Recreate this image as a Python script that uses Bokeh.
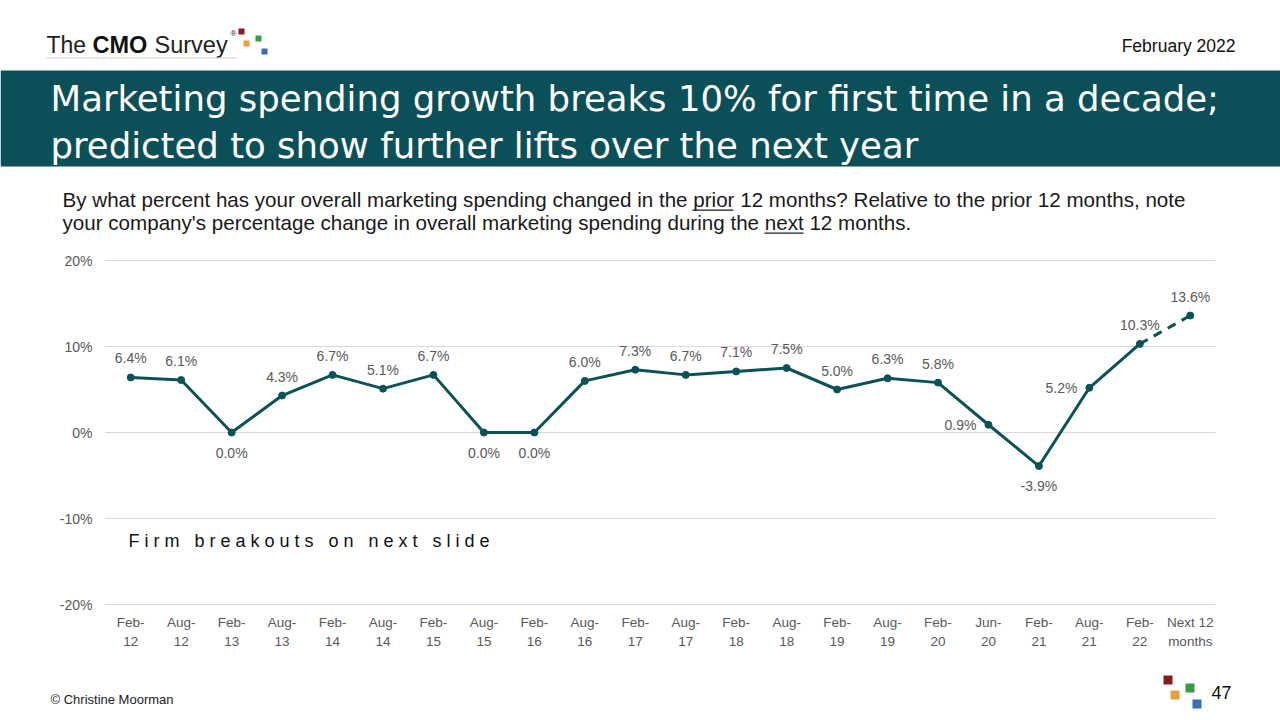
from bokeh.plotting import figure
from bokeh.models import (Range1d, FixedTicker, ColumnDataSource, CustomJSTickFormatter,
                          Label, BoxAnnotation)
from bokeh.core.properties import value
from bokeh.embed import file_html
from bokeh.resources import INLINE

# ---------------- data ----------------
periods = ["Feb-12", "Aug-12", "Feb-13", "Aug-13", "Feb-14", "Aug-14", "Feb-15", "Aug-15",
           "Feb-16", "Aug-16", "Feb-17", "Aug-17", "Feb-18", "Aug-18", "Feb-19", "Aug-19",
           "Feb-20", "Jun-20", "Feb-21", "Aug-21", "Feb-22", "Next 12 months"]
tick_labels = ["Feb-\n12", "Aug-\n12", "Feb-\n13", "Aug-\n13", "Feb-\n14", "Aug-\n14", "Feb-\n15",
               "Aug-\n15", "Feb-\n16", "Aug-\n16", "Feb-\n17", "Aug-\n17", "Feb-\n18", "Aug-\n18",
               "Feb-\n19", "Aug-\n19", "Feb-\n20", "Jun-\n20", "Feb-\n21", "Aug-\n21", "Feb-\n22",
               "Next 12\nmonths"]
spending_change = [6.4, 6.1, 0.0, 4.3, 6.7, 5.1, 6.7, 0.0, 0.0, 6.0, 7.3, 6.7, 7.1, 7.5,
                   5.0, 6.3, 5.8, 0.9, -3.9, 5.2, 10.3, 13.6]
y_ticks = [-20, -10, 0, 10, 20]

title_lines = ["Marketing spending growth breaks 10% for first time in a decade;",
               "predicted to show further lifts over the next year"]
question_lines = ["By what percent has your overall marketing spending changed in the prior 12 months? "
                  "Relative to the prior 12 months, note",
                  "your company's percentage change in overall marketing spending during the next 12 months."]
note_text = "F i r m \u00a0 b r e a k o u t s \u00a0 o n \u00a0 n e x t \u00a0 s l i d e"

# label placement (style): default above the point
below_idx = {2, 7, 8, 18}
left_idx = {17, 19}

TEAL = "#0b5258"
BAND = "#0b4f58"
GRAY = "#595959"
FONT = "Liberation Sans"

W, H = 1280, 720
FL, FR, FT, FB = 105, 1215, 260, 604  # plotting area on the page (px)
YMIN, YMAX = -20, 20

n = len(periods)
x0, x1 = -0.5, n - 0.5
ppx = (FR - FL) / (x1 - x0)
ppy = (FB - FT) / (YMAX - YMIN)

p = figure(width=W, height=H, output_backend="svg", toolbar_location=None,
           x_range=Range1d(x0 - FL / ppx, x1 + (W - FR) / ppx),
           y_range=Range1d(YMIN - (H - FB) / ppy, YMAX + FT / ppy),
           min_border=0)
p.outline_line_color = None
p.background_fill_color = "white"
p.border_fill_color = "white"
p.grid.visible = False

# axes drawn at the edges of the plotting area
p.xaxis.fixed_location = YMIN
p.yaxis.fixed_location = x0
p.xaxis.ticker = FixedTicker(ticks=list(range(n)))
p.xaxis.major_label_overrides = {i: t for i, t in enumerate(tick_labels)}
p.yaxis.ticker = FixedTicker(ticks=y_ticks)
p.yaxis.formatter = CustomJSTickFormatter(code="return tick + '%';")
for ax in (p.xaxis[0], p.yaxis[0]):
    ax.axis_line_color = None
    ax.major_tick_line_color = None
    ax.minor_tick_line_color = None
    ax.major_label_text_font = FONT
    ax.major_label_text_color = GRAY
p.xaxis.major_label_text_font_size = "13.5px"
p.xaxis.major_label_text_line_height = 1.3
p.yaxis.major_label_text_font_size = "14px"
p.xaxis.major_label_standoff = 4
p.yaxis.major_label_standoff = 7

# horizontal grid lines
p.segment(x0=[x0] * len(y_ticks), x1=[x1] * len(y_ticks), y0=y_ticks, y1=y_ticks,
          line_color="#d9d9d9", line_width=1)

# series
xs = list(range(n))
n_solid = n - 1
p.line(xs[:n_solid], spending_change[:n_solid], line_color=TEAL, line_width=3)
p.line(xs[n_solid - 1:], spending_change[n_solid - 1:], line_color=TEAL, line_width=3,
       line_dash="9 7")
p.scatter(xs, spending_change, size=7, fill_color=TEAL, line_color=TEAL)

labels = [f"{v:.1f}%" for v in spending_change]
groups = {"above": [], "below": [], "left": []}
for i in xs:
    if i in below_idx:
        groups["below"].append(i)
    elif i in left_idx:
        groups["left"].append(i)
    else:
        groups["above"].append(i)
offs = {"above": (0, -19, "center"), "below": (0, 20, "center"), "left": (-12, 0, "right")}
for g, idx in groups.items():
    src = ColumnDataSource(dict(x=[xs[i] for i in idx], y=[spending_change[i] for i in idx],
                                t=[labels[i] for i in idx]))
    xo, yo, al = offs[g]
    p.text("x", "y", text="t", source=src, x_offset=xo, y_offset=yo, text_align=al,
           text_baseline="middle", text_font=value(FONT), text_font_size="14px",
           text_color=GRAY)

# ---------------- page decorations (screen px, origin bottom-left) ----------------
def box(X0, Y0, X1, Y1, color):
    p.add_layout(BoxAnnotation(left=X0, right=X1, top=H - Y0, bottom=H - Y1,
                               left_units="screen", right_units="screen",
                               top_units="screen", bottom_units="screen",
                               fill_color=color, fill_alpha=1, line_color=None))

def label(X, Y, text, size, color="black", font=FONT, align="left", style="normal"):
    p.add_layout(Label(x=X, y=H - Y, x_units="screen", y_units="screen", text=text,
                       text_font=font, text_font_size=size, text_color=color,
                       text_align=align, text_baseline="middle", text_font_style=style))

# header band and title
box(0, 70, W, 166, BAND)
label(50, 98, title_lines[0], "35.5px", color="white", font="DejaVu Sans")
label(50, 145, title_lines[1], "35.5px", color="white", font="DejaVu Sans")

# logo
label(46, 44, "The", "23px", color="#222222")
label(92, 44, "CMO", "23.5px", color="#111111", style="bold")
label(154, 44, "Survey", "23.5px", color="#222222")
label(230, 33, "®", "8px", color="#222222")
box(46, 57, 236, 58, "#cfcfcf")
box(238, 28, 244, 34, "#8b1a1a")
box(243, 40, 249, 46, "#e8a040")
box(255, 35, 261, 41, "#3a9a4a")
box(261, 48, 267, 54, "#3a6fb8")
label(1235, 45, "February 2022", "17.5px", color="#111111", align="right")

# question
label(62, 199, question_lines[0], "20.6px", color="#1a1a1a")
label(62, 222, question_lines[1], "20.6px", color="#1a1a1a")
box(692, 209, 733, 210.3, "#1a1a1a")
box(764, 232, 803, 233.3, "#1a1a1a")

# note
label(128, 540, note_text, "18px", color="#111111")

# footer
label(50, 699, "© Christine Moorman", "13px", color="#222222")
label(1231, 692, "47", "18px", color="#111111", align="right")
box(1163, 675, 1172, 684, "#8b1a1a")
box(1170, 690, 1179, 699, "#e8a040")
box(1185, 683, 1194, 692, "#3a9a4a")
box(1192, 699, 1201, 708, "#3a6fb8")

open("out.html", "w").write(file_html(p, INLINE))
